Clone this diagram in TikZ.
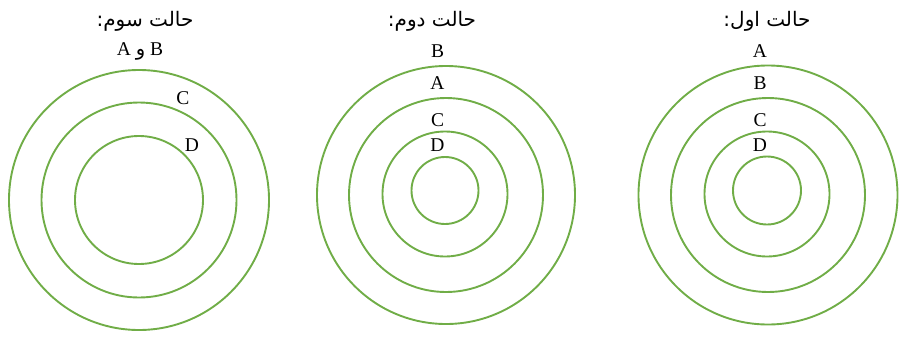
\documentclass[tikz,border=0pt]{standalone}
\usepackage{fontspec}
\setmainfont{Liberation Serif}
\newfontfamily\arabicfont[Script=Arabic]{DejaVu Sans}
\TeXXeTstate=1
\definecolor{ringgreen}{HTML}{70AD47}
\tikzset{
  ring/.style={circle, draw=ringgreen, line width=1.9pt, inner sep=0pt, outer sep=0pt},
  lbl/.style={inner sep=0pt, font=\fontsize{19.5}{19.5}\selectfont},
  ttl/.style={inner sep=0pt, font=\arabicfont\fontsize{20}{20}\selectfont}
}
\begin{document}
\begin{tikzpicture}[x=1pt, y=-1pt]
\useasboundingbox (0,0) rectangle (905,338);
% left group (third case)
\node[ring, minimum size=260pt] (l1) at (139,200) {};
\node[ring, minimum size=195pt] (l2) at (139,200) {};
\node[ring, minimum size=128pt] (l3) at (139,200) {};
\node[ttl] (lt) at (145,21) {\beginR حالت سوم:\endR};
\node[lbl] (lab) at (140,51.5) {A {\arabicfont و} B};
\node[lbl] (lc) at (183,98) {C};
\node[lbl] (ld) at (192,145) {D};
% middle group (second case)
\node[ring, minimum size=258pt] (m1) at (446,195) {};
\node[ring, minimum size=194pt] (m2) at (446,195) {};
\node[ring, minimum size=125pt] (m3) at (445,194) {};
\node[ring, minimum size=67pt] (m4) at (445,190.5) {};
\node[ttl] (mt) at (432,21) {\beginR حالت دوم:\endR};
\node[lbl] (mb) at (437.5,51.5) {B};
\node[lbl] (ma) at (437.5,83.5) {A};
\node[lbl] (mc) at (437.5,120) {C};
\node[lbl] (md) at (437.5,145.5) {D};
% right group (first case)
\node[ring, minimum size=259pt] (r1) at (768,195) {};
\node[ring, minimum size=194pt] (r2) at (768,195) {};
\node[ring, minimum size=125pt] (r3) at (767,194) {};
\node[ring, minimum size=68pt] (r4) at (767,190.5) {};
\node[ttl] (rt) at (767,21) {\beginR حالت اول:\endR};
\node[lbl] (ra) at (760,51.5) {A};
\node[lbl] (rb) at (760,83.5) {B};
\node[lbl] (rc) at (760,120) {C};
\node[lbl] (rd) at (760,145.5) {D};
\end{tikzpicture}
\end{document}
